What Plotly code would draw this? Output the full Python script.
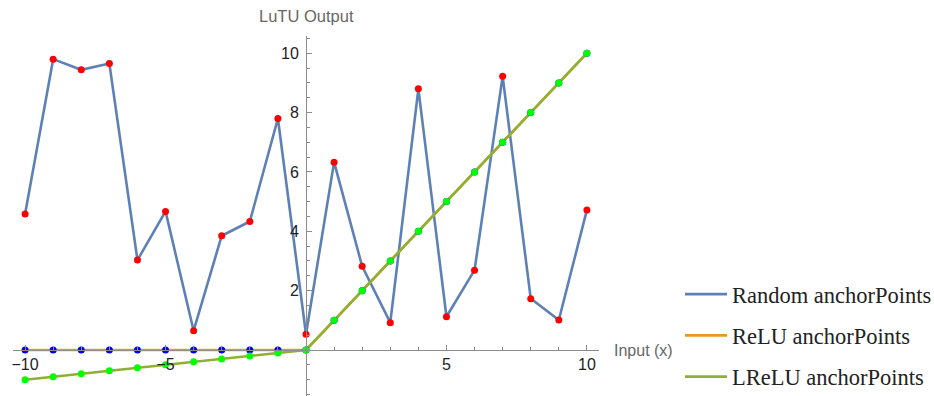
import plotly.graph_objects as go

x_vals = list(range(-10, 11))
random_y = [4.58, 9.80, 9.44, 9.65, 3.03, 4.67, 0.65, 3.85, 4.33, 7.80, 0.53,
            6.33, 2.82, 0.92, 8.80, 1.12, 2.69, 9.22, 1.73, 1.01, 4.72]
relu_y = [0, 0, 0, 0, 0, 0, 0, 0, 0, 0, 0, 1, 2, 3, 4, 5, 6, 7, 8, 9, 10]
lrelu_y = [-1.0, -0.9, -0.8, -0.7, -0.6, -0.5, -0.4, -0.3, -0.2, -0.1, 0,
           1, 2, 3, 4, 5, 6, 7, 8, 9, 10]
series_names = ["Random anchorPoints", "ReLU anchorPoints", "LReLU anchorPoints"]
line_colors = ["#5E81B5", "#E19C24", "#8FB032"]
point_colors = ["#FF0000", "#0000FF", "#00FF00"]
x_tick_vals = [-10, -5, 5, 10]
y_tick_vals = [2, 4, 6, 8, 10]
title_text = "LuTU Output Curves (Different anchorPoints)"

series = [random_y, relu_y, lrelu_y]

fig = go.Figure()
for i, ys in enumerate(series):
    fig.add_trace(go.Scatter(x=x_vals, y=ys, mode="lines", name=series_names[i],
                             line=dict(color=line_colors[i], width=2.6),
                             legendgroup=f"g{i}", showlegend=True, hoverinfo="skip"))
for i, ys in enumerate(series):
    fig.add_trace(go.Scatter(x=x_vals, y=ys, mode="markers",
                             marker=dict(color=point_colors[i], size=7),
                             legendgroup=f"g{i}", showlegend=False, hoverinfo="skip"))

axis_col = "#8c8c8c"
tick_font = dict(family="Liberation Sans, Arial, sans-serif", size=16, color="#222")
fig.update_layout(
    width=934, height=396,
    margin=dict(l=13, r=335, t=36, b=0, autoexpand=False),
    plot_bgcolor="white", paper_bgcolor="white",
    showlegend=True,
    legend=dict(x=(680-13)/586, y=(396-273)/360, xanchor="left", yanchor="top",
                font=dict(family="Liberation Serif, Times New Roman, serif", size=22.5, color="#222"),
                tracegroupgap=9, itemwidth=42, bgcolor="rgba(0,0,0,0)"),
    xaxis=dict(range=[-10.43, 10.43], anchor="free", position=1.55/12.13,
               automargin=False,
               showline=True, linecolor=axis_col, linewidth=1,
               showgrid=False, zeroline=False,
               tickmode="array", tickvals=x_tick_vals, ticks="inside", ticklen=5,
               tickcolor=axis_col, tickfont=tick_font,
               minor=dict(dtick=1, tick0=0, ticks="inside", ticklen=3, tickcolor=axis_col, showgrid=False)),
    yaxis=dict(range=[-1.55, 10.58], anchor="free", position=0.5,
               automargin=False, ticklabelstandoff=4,
               showline=True, linecolor=axis_col, linewidth=1,
               showgrid=False, zeroline=False,
               tickmode="array", tickvals=y_tick_vals, ticks="inside", ticklen=5,
               tickcolor=axis_col, tickfont=tick_font,
               minor=dict(dtick=0.5, tick0=0, ticks="inside", ticklen=3, tickcolor=axis_col, showgrid=False)),
    annotations=[
        dict(text=title_text, xref="paper", yref="paper", x=(280-13)/586, y=1 + 47/360,
             xanchor="left", yanchor="middle", showarrow=False,
             font=dict(family="Liberation Sans, Arial, sans-serif", size=16.5, color="black")),
        dict(text="LuTU Output", xref="paper", yref="paper", x=0.5, y=1 + 20/360,
             xanchor="center", yanchor="middle", showarrow=False,
             font=dict(family="Liberation Sans, Arial, sans-serif", size=16.5, color="#666")),
        dict(text="Input (x)", xref="paper", yref="y", x=(612-13)/586, y=0,
             xanchor="left", yanchor="middle", showarrow=False,
             font=dict(family="Liberation Sans, Arial, sans-serif", size=16, color="#666")),
    ],
)

fig.write_html("out.html", config={"displayModeBar": False},
               post_script="document.body.style.margin='0';")
